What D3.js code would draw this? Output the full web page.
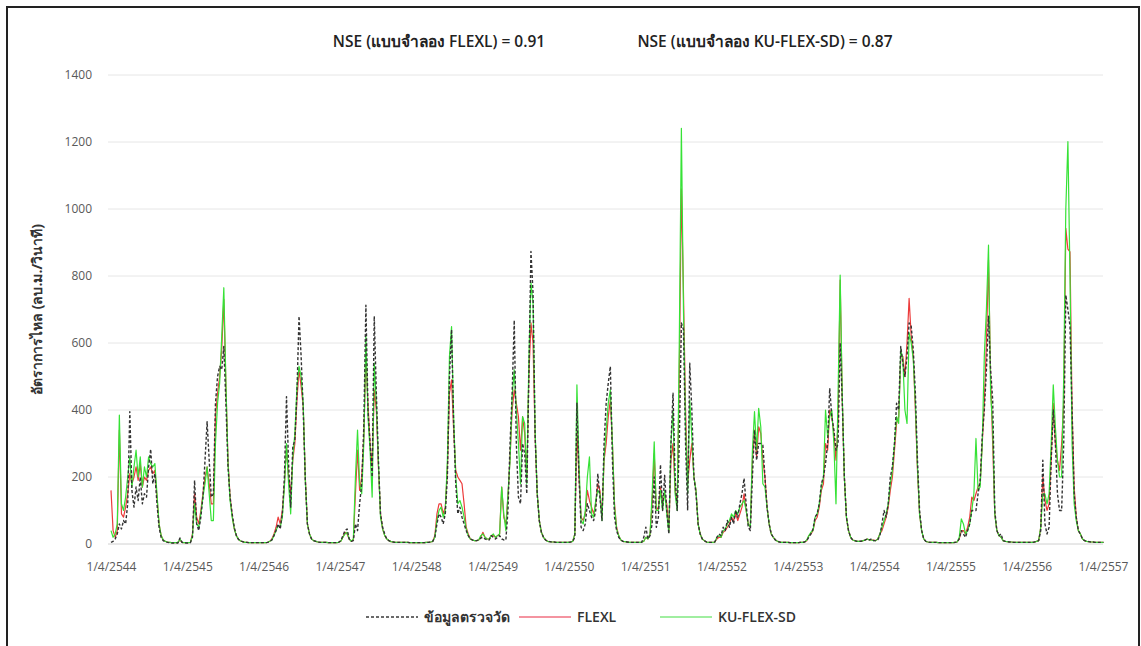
<!DOCTYPE html>
<html>
<head>
<meta charset="utf-8">
<script src="https://cdnjs.cloudflare.com/ajax/libs/d3/7.8.5/d3.min.js"></script>
<style>
  body { margin: 0; background: #fff; }
  svg text { font-family: "Open Sans", "Noto Sans", "DejaVu Sans", sans-serif; }
</style>
</head>
<body>
<div id="chart"></div>
<script>
// x tick labels (Thai Buddhist calendar, d/m/yyyy)
const xTickLabels = ["1/4/2544", "1/4/2545", "1/4/2546", "1/4/2547", "1/4/2548", "1/4/2549", "1/4/2550",
    "1/4/2551", "1/4/2552", "1/4/2553", "1/4/2554", "1/4/2555", "1/4/2556", "1/4/2557"];
const yTicks = [0, 200, 400, 600, 800, 1000, 1200, 1400];
const seriesNames = ["ข้อมูลตรวจวัด", "FLEXL", "KU-FLEX-SD"];
const nseLabels = ["NSE (แบบจำลอง FLEXL) = 0.91", "NSE (แบบจำลอง KU-FLEX-SD) = 0.87"];
const stepDays = 10; // one value every 10 days from 1/4/2544

const observed = [
    5,8,15,30,60,45,70,60,120,395,
    160,110,170,130,200,120,150,140,230,283,
    180,210,120,50,20,10,6,5,4,3,
    3,4,3,18,5,4,3,3,4,20,
    190,60,40,80,140,250,365,250,140,150,
    420,500,530,520,590,420,230,140,90,50,
    25,14,9,7,5,5,4,4,4,4,
    4,4,4,4,4,5,8,12,25,40,
    60,45,90,200,440,240,110,290,310,450,
    680,560,400,190,60,30,15,10,8,6,
    5,5,5,5,4,4,4,4,4,5,
    10,25,40,45,15,8,10,60,40,120,
    180,350,713,400,300,200,680,450,250,90,
    50,30,15,10,7,6,5,5,5,5,
    5,5,5,4,4,4,4,4,4,4,
    4,5,5,6,8,20,60,90,80,60,
    90,200,500,640,360,180,90,110,80,60,
    40,25,15,12,10,10,12,18,20,15,
    12,12,25,20,15,20,25,15,12,12,
    100,300,450,668,300,140,120,300,270,150,
    500,873,750,320,150,70,35,20,12,8,
    7,6,6,5,5,5,5,5,5,5,
    6,8,20,420,200,50,40,60,120,100,
    80,70,100,210,140,70,300,420,480,530,
    250,80,40,20,12,8,7,6,5,5,
    5,5,5,5,5,20,50,15,25,60,
    200,50,80,237,100,205,100,30,300,450,
    200,100,300,660,640,300,100,540,400,200,
    150,60,30,15,10,6,5,5,5,6,
    20,30,25,50,40,70,50,80,60,100,
    80,120,150,196,120,50,40,200,340,250,
    300,300,295,200,110,60,30,20,12,8,
    6,5,5,5,5,4,4,4,4,4,
    5,5,6,10,20,30,45,80,90,120,
    180,200,240,300,465,380,340,280,300,600,
    430,200,80,40,20,12,10,8,8,8,
    10,12,15,12,15,10,10,12,25,60,
    100,80,120,200,231,300,420,400,590,540,
    500,560,660,650,580,450,250,100,40,15,
    8,6,5,5,5,5,4,4,4,4,
    4,4,4,4,5,6,15,40,30,20,
    40,60,100,100,100,150,190,320,400,520,
    680,520,430,100,40,25,30,10,8,7,
    6,6,5,5,5,5,5,5,5,5,
    5,5,6,8,10,40,250,60,30,50,
    250,400,300,150,100,100,300,743,700,650,
    400,150,80,40,30,15,10,8,7,6,
    6,5,5,5,5,5
];

// FLEXL simulated discharge
const flexl = [
    160,40,20,40,340,90,80,110,150,210,
    180,200,230,190,240,170,200,190,220,230,
    210,220,140,60,25,12,8,6,5,4,
    4,4,4,12,5,4,4,4,5,30,
    150,80,60,100,150,200,230,180,120,120,
    380,450,500,580,730,470,250,140,85,45,
    25,14,9,7,5,5,4,4,4,4,
    4,4,4,4,4,5,8,15,30,50,
    80,60,100,180,290,200,150,250,300,430,
    520,470,410,200,60,30,15,10,8,6,
    5,5,5,5,4,4,4,4,4,5,
    8,20,35,30,15,8,12,150,280,160,
    200,320,560,420,300,230,460,400,230,90,
    45,25,15,10,7,6,5,5,5,5,
    5,5,5,4,4,4,4,4,4,4,
    4,5,5,6,8,25,90,120,120,90,
    110,220,450,490,340,220,200,190,180,120,
    50,30,15,12,10,10,12,20,35,20,
    15,15,25,25,20,25,30,170,80,60,
    140,260,400,460,420,380,280,380,330,200,
    500,660,600,320,150,70,35,20,12,8,
    7,6,6,5,5,5,5,5,5,5,
    6,8,30,340,200,80,70,90,160,130,
    110,90,120,180,160,80,250,300,380,430,
    300,120,50,25,12,8,7,6,5,5,
    5,5,5,5,5,8,20,15,30,120,
    270,100,110,170,120,150,120,40,250,300,
    160,120,500,1060,750,400,180,250,300,200,
    160,60,30,15,10,6,5,5,5,6,
    15,20,20,35,40,50,60,80,70,90,
    70,90,110,150,100,60,50,250,340,260,
    350,330,250,200,110,60,30,20,12,8,
    6,5,5,5,5,4,4,4,4,4,
    5,5,6,10,25,30,40,70,80,110,
    160,180,300,280,400,380,330,250,360,788,
    430,200,80,40,20,12,10,8,8,8,
    10,12,15,12,12,12,10,15,30,40,
    60,80,110,160,200,280,360,380,560,560,
    500,600,733,620,560,400,220,90,40,15,
    8,6,5,5,5,5,4,4,4,4,
    4,4,4,4,5,6,15,40,40,30,
    50,80,140,130,150,170,180,300,420,600,
    848,500,300,90,40,25,20,10,8,7,
    6,6,5,5,5,5,5,5,5,5,
    5,5,6,8,10,50,200,130,100,120,
    250,420,300,250,220,300,420,942,880,872,
    400,170,80,40,30,15,10,8,7,6,
    6,5,5,5,5,5
];

// KU-FLEX-SD simulated discharge
const kuFlexSd = [
    40,20,30,60,385,120,100,140,200,260,
    170,230,280,200,260,170,230,200,260,240,
    230,240,150,60,25,12,8,6,5,4,
    4,4,4,15,5,4,4,4,5,25,
    120,60,50,90,140,180,230,150,70,70,
    300,420,480,620,765,480,240,130,80,45,
    25,14,9,7,5,5,4,4,4,4,
    4,4,4,4,4,5,8,12,25,40,
    55,50,80,170,300,180,90,260,330,470,
    530,500,420,190,60,30,15,10,8,6,
    5,5,5,5,4,4,4,4,4,5,
    8,20,30,35,15,8,15,200,340,180,
    150,300,620,380,280,140,540,420,240,80,
    45,25,15,10,7,6,5,5,5,5,
    5,5,5,4,4,4,4,4,4,4,
    4,5,5,6,8,20,70,100,110,80,
    100,250,560,649,380,200,120,130,110,80,
    45,25,15,12,10,10,12,25,30,20,
    15,15,25,30,20,25,30,170,90,40,
    150,250,440,520,400,300,180,380,360,180,
    550,780,720,340,150,70,35,20,12,8,
    7,6,6,5,5,5,5,5,5,5,
    6,8,30,475,240,70,60,100,200,260,
    90,80,130,160,150,70,260,340,420,460,
    300,110,45,25,12,8,7,6,5,5,
    5,5,5,5,5,8,20,15,30,150,
    305,100,100,160,100,160,90,35,300,400,
    150,100,600,1241,700,350,150,430,320,200,
    160,60,30,15,10,6,5,5,5,6,
    20,25,20,40,45,60,70,90,80,100,
    90,110,120,130,100,60,50,280,395,280,
    405,350,180,170,110,60,30,20,12,8,
    6,5,5,5,5,4,4,4,4,4,
    5,5,6,12,25,35,40,80,90,120,
    170,200,400,320,380,400,300,120,450,803,
    440,200,80,40,20,12,10,8,8,8,
    10,12,15,12,12,10,10,15,30,50,
    70,90,120,180,220,300,380,360,580,550,
    400,360,630,600,550,420,230,90,40,15,
    8,6,5,5,5,5,4,4,4,4,
    4,4,4,4,5,6,20,75,60,30,
    40,60,100,150,315,160,170,300,563,700,
    892,450,350,90,40,25,20,10,8,7,
    6,6,5,5,5,5,5,5,5,5,
    5,5,6,8,10,50,150,150,120,150,
    300,475,350,250,200,200,500,1000,1201,800,
    300,120,70,40,30,15,10,8,7,6,
    6,5,5,5,5,5
];

const width = 1141, height = 646;
const margin = { top: 75, right: 38, bottom: 102, left: 111 };

// parse "d/m/yyyy" (Buddhist era) into a JS date
function parseThai(s) {
    const [d, m, y] = s.split("/").map(Number);
    return new Date(y - 543, m - 1, d);
}
const tickDates = xTickLabels.map(parseThai);
const startDate = tickDates[0];
const dateAt = (i) => d3.timeDay.offset(startDate, i * stepDays);

const svg = d3.select("#chart").append("svg")
    .attr("width", width)
    .attr("height", height);

// frame around the picture
svg.append("path")
    .attr("d", `M7,${height} L7,7 L1139,7 L1139,${height}`)
    .attr("fill", "none")
    .attr("stroke", "#222")
    .attr("stroke-width", 2);

const x = d3.scaleTime()
    .domain([startDate, tickDates[tickDates.length - 1]])
    .range([margin.left, width - margin.right]);
const y = d3.scaleLinear()
    .domain([0, 1400])
    .range([height - margin.bottom, margin.top]);

// horizontal gridlines
svg.append("g")
    .selectAll("line")
    .data(yTicks)
    .enter()
    .append("line")
    .attr("x1", margin.left - 3)
    .attr("x2", width - margin.right)
    .attr("y1", (d) => y(d))
    .attr("y2", (d) => y(d))
    .attr("stroke", (d) => (d === 0 ? "#d0d0d0" : "#e6e6e6"))
    .attr("stroke-width", 1);

// y axis labels
const yAxis = svg.append("g")
    .attr("transform", `translate(${margin.left - 19},0)`)
    .call(d3.axisLeft(y).tickValues(yTicks).tickSize(0).tickPadding(0).tickFormat(d3.format("d")));
yAxis.select(".domain").remove();
yAxis.selectAll("text")
    .attr("fill", "#595959")
    .attr("font-size", 12);

// x axis labels
const xAxis = svg.append("g")
    .attr("transform", `translate(0,${height - margin.bottom + 10})`)
    .call(d3.axisBottom(x).tickValues(tickDates).tickSize(0).tickPadding(8)
        .tickFormat((d, i) => xTickLabels[i]));
xAxis.select(".domain").remove();
xAxis.selectAll("text")
    .attr("fill", "#595959")
    .attr("font-size", 12);

// y axis title
svg.append("text")
    .attr("transform", `translate(42,${(margin.top + height - margin.bottom) / 2}) rotate(-90)`)
    .attr("text-anchor", "middle")
    .attr("font-size", 14)
    .attr("font-weight", "bold")
    .attr("fill", "#333")
    .text("อัตราการไหล (ลบ.ม./วินาที)");

// NSE annotations
svg.append("text")
    .attr("x", 439).attr("y", 47)
    .attr("text-anchor", "middle")
    .attr("font-size", 15.5)
    .attr("font-weight", 600)
    .attr("fill", "#222")
    .text(nseLabels[0]);
svg.append("text")
    .attr("x", 765).attr("y", 47)
    .attr("text-anchor", "middle")
    .attr("font-size", 15.5)
    .attr("font-weight", 600)
    .attr("fill", "#222")
    .text(nseLabels[1]);

const line = d3.line()
    .x((d, i) => x(dateAt(i)))
    .y((d) => y(d));

const series = [
    { name: seriesNames[1], values: flexl, color: "#ec3b3b", width: 1.2, dash: null },
    { name: seriesNames[2], values: kuFlexSd, color: "#36e236", width: 1.2, dash: null },
    { name: seriesNames[0], values: observed, color: "#333", width: 1.4, dash: "3,2" },
];

svg.append("g")
    .selectAll("path")
    .data(series)
    .enter()
    .append("path")
    .attr("d", (d) => line(d.values))
    .attr("fill", "none")
    .attr("stroke", (d) => d.color)
    .attr("stroke-width", (d) => d.width)
    .attr("stroke-dasharray", (d) => d.dash)
    .attr("stroke-linejoin", "round");

// legend
const legendItems = [
    { name: seriesNames[0], color: "#3a3a3a", dash: "3,2", x: 366 },
    { name: seriesNames[1], color: "#f07080", dash: null, x: 519 },
    { name: seriesNames[2], color: "#80e880", dash: null, x: 660 },
];
const legend = svg.append("g").attr("transform", "translate(0,617)");
legend.selectAll("line")
    .data(legendItems)
    .enter()
    .append("line")
    .attr("x1", (d) => d.x)
    .attr("x2", (d) => d.x + 52)
    .attr("y1", 0)
    .attr("y2", 0)
    .attr("stroke", (d) => d.color)
    .attr("stroke-width", 1.3)
    .attr("stroke-dasharray", (d) => d.dash);
legend.selectAll("text")
    .data(legendItems)
    .enter()
    .append("text")
    .attr("x", (d) => d.x + 58)
    .attr("y", 5)
    .attr("font-size", 14)
    .attr("font-weight", 600)
    .attr("fill", "#333")
    .text((d) => d.name);
</script>
</body>
</html>
